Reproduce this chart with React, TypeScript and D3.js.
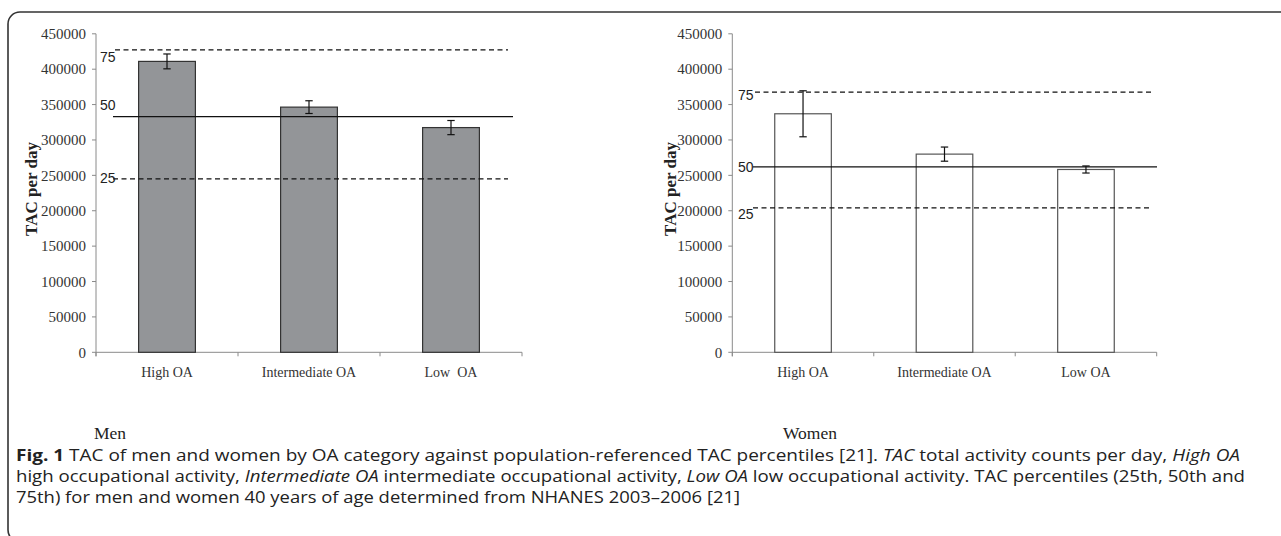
import React from "react";
import * as d3 from "d3";

const categories = ["High OA", "Intermediate OA", "Low  OA"];
const categoriesWomen = ["High OA", "Intermediate OA", "Low OA"];
const menValues = [411000, 346400, 317500];
const menErrors = [10500, 9000, 10000];
const womenValues = [337000, 280000, 258300];
const womenErrors = [32500, 10000, 5000];
const percentileLabels = ["75", "50", "25"];
const menPercentiles = [427400, 333100, 245000];
const womenPercentiles = [367600, 262000, 204000];
const yTicks = [0, 50000, 100000, 150000, 200000, 250000, 300000, 350000, 400000, 450000];

const SERIF = "'Liberation Serif', 'Times New Roman', serif";
const SANS = "'Liberation Sans', Arial, sans-serif";
const CAP = "'Open Sans', 'Noto Sans', sans-serif";

type PanelProps = {
  x0: number;
  x1: number;
  cats: string[];
  values: number[];
  errors: number[];
  pcts: number[];
  fill: string;
  barStroke: string;
  lineStart: number;
  lineEnd: number;
  labelX: number;
  labelDy: number[];
  titleX: number;
  name: string;
  nameX: number;
};

function Panel(p: PanelProps) {
  const y = d3.scaleLinear().domain([0, 450000]).range([352.3, 33.8]);
  const x = d3
    .scaleBand<string>()
    .domain(p.cats)
    .range([p.x0, p.x1])
    .paddingInner(0.6)
    .paddingOuter(0.3);
  const step = x.step();
  const bounds = d3.range(4).map((i) => p.x0 + i * step);
  const y0 = y(0);
  return (
    <g>
      <line x1={p.x0} x2={p.x0} y1={y(450000)} y2={y0 + 4} stroke="#8a8a8a" strokeWidth={1} />
      {yTicks.map((t) => (
        <g key={t}>
          <line x1={p.x0 - 4} x2={p.x0} y1={y(t)} y2={y(t)} stroke="#8a8a8a" strokeWidth={1} />
          <text
            x={p.x0 - 10}
            y={y(t)}
            dy="0.35em"
            textAnchor="end"
            fontFamily={SERIF}
            fontSize={15}
            fill="#333"
          >
            {t}
          </text>
        </g>
      ))}
      <line x1={p.x0} x2={p.x1} y1={y0} y2={y0} stroke="#8a8a8a" strokeWidth={1} />
      {bounds.map((b, i) => (
        <line key={i} x1={b} x2={b} y1={y0} y2={y0 + 4} stroke="#8a8a8a" strokeWidth={1} />
      ))}
      {p.cats.map((c) => (
        <text
          key={c}
          x={(x(c) as number) + x.bandwidth() / 2}
          y={377}
          textAnchor="middle"
          fontFamily={SERIF}
          fontSize={14}
          fill="#333"
          style={{ whiteSpace: "pre" }}
        >
          {c}
        </text>
      ))}
      {p.cats.map((c, i) => (
        <rect
          key={c}
          x={x(c)}
          y={y(p.values[i])}
          width={x.bandwidth()}
          height={y0 - y(p.values[i])}
          fill={p.fill}
          stroke={p.barStroke}
          strokeWidth={1.2}
        />
      ))}
      {p.cats.map((c, i) => {
        const cx = (x(c) as number) + x.bandwidth() / 2;
        const hi = y(p.values[i] + p.errors[i]);
        const lo = y(p.values[i] - p.errors[i]);
        return (
          <g key={c} stroke="#111" strokeWidth={1.2}>
            <line x1={cx} x2={cx} y1={hi} y2={lo} />
            <line x1={cx - 3.7} x2={cx + 3.7} y1={hi} y2={hi} />
            <line x1={cx - 3.7} x2={cx + 3.7} y1={lo} y2={lo} />
          </g>
        );
      })}
      {p.pcts.map((v, i) => (
        <g key={i}>
          <line
            x1={i === 0 ? p.lineStart + 2 : p.lineStart}
            x2={i === 1 ? p.lineEnd + 5 : p.lineEnd}
            y1={y(v)}
            y2={y(v)}
            stroke="#111"
            strokeWidth={1.3}
            strokeDasharray={i === 1 ? undefined : "5,3.5"}
          />
          <text
            x={p.labelX}
            y={y(v) + p.labelDy[i]}
            fontFamily={SANS}
            fontSize={14}
            fill="#222"
          >
            {percentileLabels[i]}
          </text>
        </g>
      ))}
      <text
        transform={`translate(${p.titleX},189) rotate(-90)`}
        textAnchor="middle"
        fontFamily={SERIF}
        fontWeight="bold"
        fontSize={17}
        fill="#222"
      >
        TAC per day
      </text>
      <text x={p.nameX} y={439} fontFamily={SERIF} fontSize={17.5} fill="#222">
        {p.name}
      </text>
    </g>
  );
}

export default function App() {
  return (
    <svg
      width={1281}
      height={536}
      style={{ position: "absolute", left: 0, top: 0, background: "#fff" }}
    >
      <rect x={0} y={0} width={1281} height={536} fill="#fff" />
      <rect x={8} y={12} width={1320} height={530} rx={12} ry={12} fill="none" stroke="#333" strokeWidth={1.6} />
      <Panel
        x0={96}
        x1={522}
        cats={categories}
        values={menValues}
        errors={menErrors}
        pcts={menPercentiles}
        fill="#939598"
        barStroke="#333"
        lineStart={113}
        lineEnd={508}
        labelX={100}
        labelDy={[12, -6.5, 4.5]}
        titleX={37}
        name="Men"
        nameX={94}
      />
      <Panel
        x0={732.3}
        x1={1156.7}
        cats={categoriesWomen}
        values={womenValues}
        errors={womenErrors}
        pcts={womenPercentiles}
        fill="#fff"
        barStroke="#555"
        lineStart={753}
        lineEnd={1152}
        labelX={738}
        labelDy={[8, 5, 11]}
        titleX={676}
        name="Women"
        nameX={783}
      />
      <g fontFamily={CAP} fontSize={16.5} fill="#222">
        <text x={16} y={461} textLength={1224} lengthAdjust="spacingAndGlyphs">
          <tspan fontWeight="bold">Fig. 1</tspan>
          {" TAC of men and women by OA category against population-referenced TAC percentiles [21]. "}
          <tspan fontStyle="italic">TAC</tspan>
          {" total activity counts per day, "}
          <tspan fontStyle="italic">High OA</tspan>
        </text>
        <text x={16} y={482} textLength={1229} lengthAdjust="spacingAndGlyphs">
          {"high occupational activity, "}
          <tspan fontStyle="italic">Intermediate OA</tspan>
          {" intermediate occupational activity, "}
          <tspan fontStyle="italic">Low OA</tspan>
          {" low occupational activity. TAC percentiles (25th, 50th and"}
        </text>
        <text x={16} y={503} textLength={724} lengthAdjust="spacingAndGlyphs">
          {"75th) for men and women 40 years of age determined from NHANES 2003\u20132006 [21]"}
        </text>
      </g>
    </svg>
  );
}
